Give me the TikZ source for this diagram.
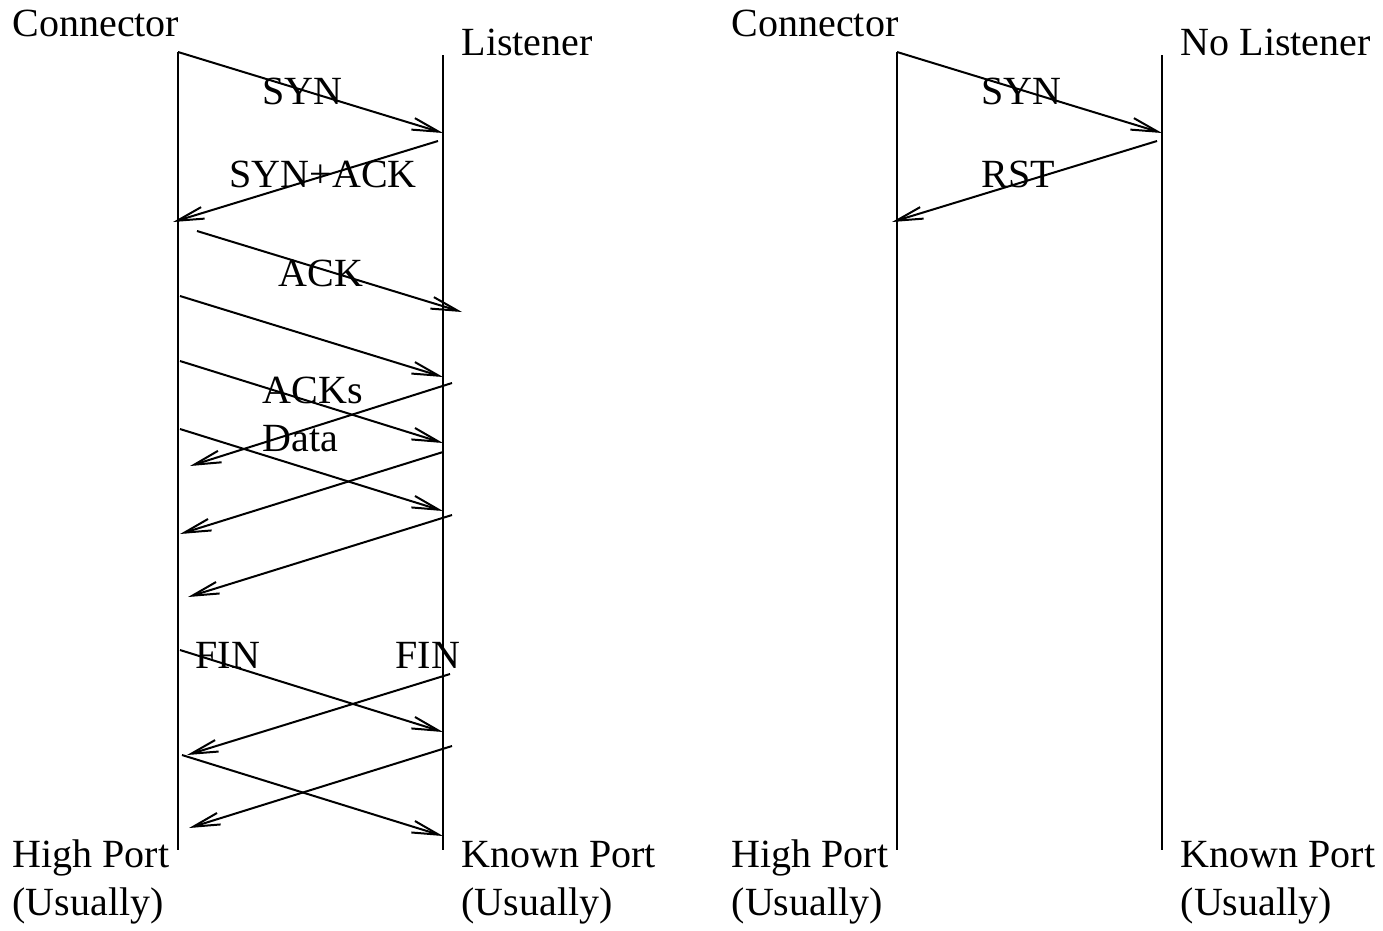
\documentclass[tikz,border=0pt]{standalone}
\usepackage{fontspec}
\setmainfont{Liberation Serif}
\usetikzlibrary{arrows.meta}
\tikzset{
	msg/.style={line width=0.6pt,-{Straight Barb[length=8pt,width=3.6pt,line width=0.6pt]}},
	life/.style={line width=0.6pt},
	lbl/.style={anchor=base west,inner sep=0pt,font=\fontsize{12pt}{14pt}\selectfont},
}

\begin{document}
\begin{tikzpicture}[x=0.3pt,y=-0.3pt]
	\useasboundingbox (0,0) rectangle (1383,930);

	% lifelines
	\coordinate (ct) at (178,52);  \coordinate (cb) at (178,850);
	\coordinate (lt) at (443,55);  \coordinate (lb) at (443,850);
	\coordinate (nct) at (897,52); \coordinate (ncb) at (897,850);
	\coordinate (nlt) at (1162,55); \coordinate (nlb) at (1162,850);
	\draw [life] (ct) -- (cb);
	\draw [life] (lt) -- (lb);
	\draw [life] (nct) -- (ncb);
	\draw [life] (nlt) -- (nlb);

	% end names
	\node [lbl] (conn) at (12,36) {Connector};
	\node [lbl] (list) at (461,55) {Listener};
	\node [lbl] (high) at (12,867) {High Port};
	\node [lbl] (highu) at (12,915) {(Usually)};
	\node [lbl] (known) at (461,867) {Known Port};
	\node [lbl] (knownu) at (461,915) {(Usually)};

	\node [lbl] (nconn) at (731,36) {Connector};
	\node [lbl] (nlist) at (1180,55) {No Listener};
	\node [lbl] (nhigh) at (731,867) {High Port};
	\node [lbl] (nhighu) at (731,915) {(Usually)};
	\node [lbl] (nknown) at (1180,867) {Known Port};
	\node [lbl] (nknownu) at (1180,915) {(Usually)};

	% handshake
	\coordinate (a1) at (178,52);  \coordinate (b1) at (443,133);
	\coordinate (a2) at (438,141); \coordinate (b2) at (173,222);
	\coordinate (a3) at (197,231); \coordinate (b3) at (462,312);
	\draw [msg] (a1) -- (b1);
	\draw [msg] (a2) -- (b2);
	\draw [msg] (a3) -- (b3);

	% data and acks
	\coordinate (d1) at (180,296); \coordinate (e1) at (443,377);
	\coordinate (d2) at (180,361); \coordinate (e2) at (443,443);
	\coordinate (d3) at (180,429); \coordinate (e3) at (443,511);
	\coordinate (k1) at (452,383); \coordinate (m1) at (190,466);
	\coordinate (k2) at (443,452); \coordinate (m2) at (180,534);
	\coordinate (k3) at (452,515); \coordinate (m3) at (188,597);
	\foreach \i in {1,2,3} {
		\draw [msg] (d\i) -- (e\i);
		\draw [msg] (k\i) -- (m\i);
	}

	% close
	\coordinate (f1) at (180,650); \coordinate (g1) at (443,732);
	\coordinate (f2) at (450,674); \coordinate (g2) at (187,755);
	\coordinate (f3) at (182,755); \coordinate (g3) at (443,836);
	\coordinate (f4) at (452,746); \coordinate (g4) at (189,828);
	\foreach \i in {1,...,4}
		\draw [msg] (f\i) -- (g\i);

	\node [lbl] (syn) at (262,104) {SYN};
	\node [lbl] (synack) at (229,187) {SYN+ACK};
	\node [lbl] (ack) at (278,286) {ACK};
	\node [lbl] (acks) at (262,403) {ACKs};
	\node [lbl] (data) at (262,451) {Data};
	\node [lbl] (fina) at (195,668) {FIN};
	\node [lbl] (finb) at (395,668) {FIN};

	% refused
	\coordinate (na1) at (897,52);   \coordinate (nb1) at (1162,133);
	\coordinate (na2) at (1157,141); \coordinate (nb2) at (892,222);
	\draw [msg] (na1) -- (nb1);
	\draw [msg] (na2) -- (nb2);

	\node [lbl] (nsyn) at (981,104) {SYN};
	\node [lbl] (rst) at (981,187) {RST};
\end{tikzpicture}
\end{document}
